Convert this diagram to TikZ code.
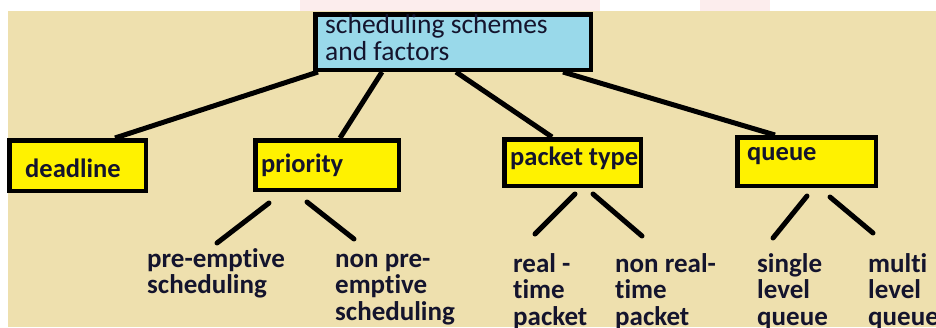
\documentclass[tikz,border=0pt]{standalone}
\usepackage{fontspec}
\setmainfont{Carlito}[Ligatures=NoCommon]
\definecolor{paper}{HTML}{EEE0AE}
\definecolor{sky}{HTML}{99D9EA}
\definecolor{paintyellow}{HTML}{FFF200}
\definecolor{ink}{RGB}{20,20,45}
\definecolor{blush}{HTML}{FCEDED}
\tikzset{
  box/.style={draw=black, line width=4.5pt, inner sep=0pt, rectangle},
  rootbox/.style={box, fill=sky},
  ybox/.style={box, fill=paintyellow},
  boxlabel/.style={inner sep=0pt, anchor=base west, text=ink,
    font=\fontsize{26.5}{26.5}\selectfont\bfseries},
  rootlabel/.style={inner sep=0pt, anchor=base west, text=ink,
    font=\fontsize{27.5}{27}\selectfont},
  leaflabel/.style={inner sep=0pt, anchor=base west, text=ink,
    font=\fontsize{27}{26.5}\selectfont\bfseries},
  link/.style={draw=black, line width=5pt},
  twig/.style={draw=black, line width=5pt, line cap=round}
}
\begin{document}
\begin{tikzpicture}[x=1pt, y=-1pt]
  \useasboundingbox (0,0) rectangle (936,327);
  % page background
  \fill[white] (0,0) rectangle (936,327);
  \fill[blush] (300,0) rectangle (600,11);
  \fill[blush] (700,0) rectangle (770,11);
  \fill[paper] (8,11) rectangle (936,327);

  % boxes
  \node[rootbox, minimum width=275.5pt, minimum height=55.5pt] (top) at (453,42) {};
  \node[ybox, minimum width=136.5pt, minimum height=50.5pt] (dl) at (77.5,165.5) {};
  \node[ybox, minimum width=143.5pt, minimum height=49.5pt] (pr) at (327,165) {};
  \node[ybox, minimum width=136.5pt, minimum height=46.5pt] (pk) at (572.5,162.5) {};
  \node[ybox, minimum width=138.5pt, minimum height=48.5pt] (qu) at (806.5,161.5) {};

  % links from the root box
  \draw[link] ([xshift=5pt]top.south west) -- ([xshift=37.5pt]dl.north);
  \draw[link] ([xshift=69pt]top.south west) -- ([xshift=13pt]pr.north);
  \draw[link] ([xshift=143pt]top.south west) -- ([xshift=-20.5pt]pk.north);
  \draw[link] ([xshift=250pt]top.south west) -- ([xshift=-31.5pt]qu.north);

  % short branches under the factor boxes
  \coordinate (prA1) at (269,203); \coordinate (prA2) at (217,243);
  \coordinate (prB1) at (307,202); \coordinate (prB2) at (354,239);
  \coordinate (pkA1) at (575,194); \coordinate (pkA2) at (535,234);
  \coordinate (pkB1) at (593,194); \coordinate (pkB2) at (642,236);
  \coordinate (quA1) at (807,196); \coordinate (quA2) at (773,238);
  \coordinate (quB1) at (830,197); \coordinate (quB2) at (873,233);
  \draw[twig] (prA1) -- (prA2);
  \draw[twig] (prB1) -- (prB2);
  \draw[twig] (pkA1) -- (pkA2);
  \draw[twig] (pkB1) -- (pkB2);
  \draw[twig] (quA1) -- (quA2);
  \draw[twig] (quB1) -- (quB2);

  % box texts
  \node[rootlabel] (topT) at (325,33) {\vtop{\hbox{scheduling schemes}\hbox{and factors}}};
  \node[boxlabel] (dlT) at (25,177) {deadline};
  \node[boxlabel] (prT) at (261,172) {priority};
  \node[boxlabel] (pkT) at (510,165) {packet type};
  \node[boxlabel] (quT) at (747,160) {queue};

  % leaf texts
  \node[leaflabel] (pre) at (147,267) {\vtop{\hbox{pre-emptive}\hbox{scheduling}}};
  \node[leaflabel] (npre) at (335,267) {\vtop{\hbox{non pre-}\hbox{emptive}\hbox{scheduling}}};
  \node[leaflabel] (rt) at (513,272) {\vtop{\hbox{real -}\hbox{time}\hbox{packet}}};
  \node[leaflabel] (nrt) at (615,272) {\vtop{\hbox{non real-}\hbox{time}\hbox{packet}}};
  \node[leaflabel] (slq) at (757,272) {\vtop{\hbox{single}\hbox{level}\hbox{queue}}};
  \node[leaflabel] (mlq) at (868,272) {\vtop{\hbox{multi}\hbox{level}\hbox{queue}}};
\end{tikzpicture}
\end{document}
